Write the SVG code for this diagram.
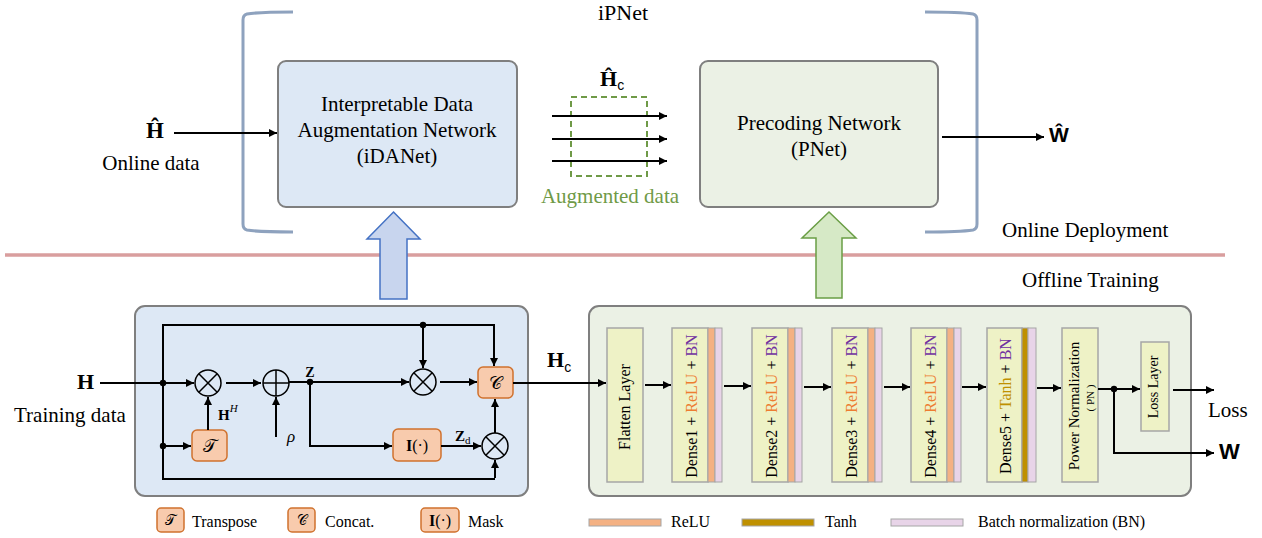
<svg xmlns="http://www.w3.org/2000/svg" width="1262" height="538" viewBox="0 0 1262 538">
<style>
.t{font-family:"Liberation Serif","Times New Roman",serif;fill:#000}
.s21{font-size:21px}
.s16{font-size:16px}
.bf{font-weight:bold}
.ln{fill:none;stroke:#000;stroke-width:2}
.arw{fill:none;stroke:#000;stroke-width:2;marker-end:url(#ah)}
.op{fill:none;stroke:#000;stroke-width:1.5}
.obox{fill:#f8cbad;stroke:#d0722e;stroke-width:1.5}
.lyr{fill:#eef2c6;stroke:#a6a6a6;stroke-width:1.5}
.relu{fill:#f4b183;stroke:#a6a6a6;stroke-width:1}
.bn{fill:#e8d4e8;stroke:#a6a6a6;stroke-width:1}
.tanh{fill:#bf9000;stroke:#a6a6a6;stroke-width:1}
.brk{fill:none;stroke:#8ea2be;stroke-width:3}
.dot{fill:#000}
</style>
<defs>
<marker id="ah" viewBox="0 0 10 10" refX="10" refY="5" markerWidth="10" markerHeight="8" orient="auto" markerUnits="userSpaceOnUse">
<path d="M0,0 L10,5 L0,10 z" fill="#000"/>
</marker>
</defs>

<!-- brackets and separator -->
<g id="brackets">
<path class="brk" d="M293,12 Q258,12 247,14 Q243,15 243,20 L243,224 Q243,229 247,230 Q258,232 293,232"/>
<path class="brk" d="M925,12 Q960,12 973,14 Q977,15 977,20 L977,224 Q977,229 973,230 Q960,232 925,232"/>
</g>
<line x1="5" y1="255" x2="1225" y2="255" stroke="#d99e9e" stroke-width="3.5"/>

<text class="t" x="623" y="20" font-size="22" text-anchor="middle">iPNet</text>
<text class="t s21" x="1002" y="237">Online Deployment</text>
<text class="t s21" x="1022" y="287">Offline Training</text>

<!-- top: input -->
<g id="online-input">
<text class="t bf" x="146" y="138" font-size="23">Ĥ</text>
<text class="t s21" x="151" y="170" text-anchor="middle">Online data</text>
</g>

<g id="iDANet">
<rect x="278" y="61" width="239" height="146" rx="8" fill="#dde8f5" stroke="#7f7f7f" stroke-width="2"/>
<text class="t s21" x="397" y="111" text-anchor="middle">Interpretable Data</text>
<text class="t s21" x="397" y="137" text-anchor="middle">Augmentation Network</text>
<text class="t s21" x="397" y="163" text-anchor="middle">(iDANet)</text>
</g>

<g id="augmented">
<rect x="571" y="97" width="76" height="79" fill="none" stroke="#6f9a47" stroke-width="2" stroke-dasharray="6,4"/>
<text class="t bf" x="600" y="86" font-size="22">Ĥ<tspan font-family="Liberation Sans, Arial, sans-serif" font-weight="normal" font-size="14" dy="4">c</tspan></text>
<text class="t s21" x="610" y="203" text-anchor="middle" fill="#6f9a47" style="fill:#6f9a47">Augmented data</text>
</g>

<g id="PNet">
<rect x="700" y="61" width="238" height="146" rx="8" fill="#ebf1e5" stroke="#7f7f7f" stroke-width="2"/>
<text class="t s21" x="819" y="130" text-anchor="middle">Precoding Network</text>
<text class="t s21" x="819" y="156" text-anchor="middle">(PNet)</text>
</g>

<g id="output-W">
<text x="1049" y="142" font-family="Liberation Sans, Arial, sans-serif" font-weight="bold" font-size="21">Ŵ</text>
</g>

<!-- big arrows -->
<g id="up-arrow-blue">
<polygon points="393.5,212 420,239 407,239 407,299 380,299 380,239 367,239" fill="#c8d5ee" stroke="#4472c4" stroke-width="1.5"/>
</g>
<g id="up-arrow-green">
<polygon points="829,212 856,238 842,238 842,298 816,298 816,238 802,238" fill="#d6e9c6" stroke="#6a9e45" stroke-width="1.5"/>
</g>

<!-- bottom-left iDANet detail -->
<g id="iDANet-detail">
<rect x="135" y="306" width="393" height="190" rx="10" fill="#dde8f5" stroke="#7f7f7f" stroke-width="2"/>
</g>

<g id="ops">
<g id="mul1"><circle class="op" cx="208" cy="383" r="13"/><path class="op" d="M198.8,373.8 L217.2,392.2 M217.2,373.8 L198.8,392.2"/></g>
<g id="add1"><circle class="op" cx="276" cy="383" r="13"/><path class="op" d="M263,383 L289,383 M276,370 L276,396"/></g>
<g id="mul2"><circle class="op" cx="423" cy="382" r="13"/><path class="op" d="M413.8,372.8 L432.2,391.2 M432.2,372.8 L413.8,391.2"/></g>
<g id="mul3"><circle class="op" cx="495" cy="446" r="13"/><path class="op" d="M485.8,436.8 L504.2,455.2 M504.2,436.8 L485.8,455.2"/></g>
</g>

<g id="T-box">
<rect class="obox" x="192" y="430" width="35" height="31" rx="5"/>
<text x="209.5" y="452" text-anchor="middle" font-family="DejaVu Serif, Liberation Serif, serif" font-size="18">𝒯</text>
</g>
<g id="C-box">
<rect class="obox" x="478" y="367" width="35" height="31" rx="5"/>
<text x="495.5" y="389" text-anchor="middle" font-family="DejaVu Serif, Liberation Serif, serif" font-size="18">𝒞</text>
</g>
<g id="I-box">
<rect class="obox" x="393" y="429" width="48" height="32" rx="5"/>
<text class="t s16" x="417" y="451" text-anchor="middle"><tspan font-weight="bold">I</tspan>(·)</text>
</g>

<g id="detail-labels">
<text class="t bf s21" x="77" y="389" font-size="22" style="font-size:22px">H</text>
<text class="t s21" x="14" y="422">Training data</text>
<text class="t bf" x="310" y="377" font-size="14" text-anchor="middle">Z</text>
<text class="t" x="218" y="420" font-size="15"><tspan font-weight="bold">H</tspan><tspan font-style="italic" font-size="11" dy="-8">H</tspan></text>
<text class="t" x="287" y="442" font-size="17" font-style="italic">ρ</text>
<text class="t" x="455" y="441" font-size="15"><tspan font-weight="bold">Z</tspan><tspan font-size="11" dy="3">d</tspan></text>
<text class="t bf" x="547" y="367" font-size="22">H<tspan font-family="Liberation Sans, Arial, sans-serif" font-weight="normal" font-size="14" dy="5">c</tspan></text>
</g>

<!-- bottom-right PNet detail -->
<g id="PNet-detail">
<rect x="589" y="306" width="602" height="190" rx="10" fill="#ebf1e5" stroke="#7f7f7f" stroke-width="2"/>
</g>

<g id="flatten">
<rect class="lyr" x="607" y="328" width="36" height="154"/>
<text class="t s16" transform="translate(630,407) rotate(-90)" text-anchor="middle">Flatten Layer</text>
</g>
<g id="dense1">
<rect class="lyr" x="672" y="328" width="36" height="154"/>
<rect class="relu" x="708" y="328" width="7" height="154"/>
<rect class="bn" x="715" y="328" width="7" height="154"/>
<text class="t s16" transform="translate(697,406) rotate(-90)" text-anchor="middle">Dense1 + <tspan fill="#ed7d31">ReLU</tspan> + <tspan fill="#7030a0">BN</tspan></text>
</g>
<g id="dense2">
<rect class="lyr" x="752" y="328" width="36" height="154"/>
<rect class="relu" x="788" y="328" width="7" height="154"/>
<rect class="bn" x="795" y="328" width="7" height="154"/>
<text class="t s16" transform="translate(777,406) rotate(-90)" text-anchor="middle">Dense2 + <tspan fill="#ed7d31">ReLU</tspan> + <tspan fill="#7030a0">BN</tspan></text>
</g>
<g id="dense3">
<rect class="lyr" x="832" y="328" width="36" height="154"/>
<rect class="relu" x="868" y="328" width="7" height="154"/>
<rect class="bn" x="875" y="328" width="7" height="154"/>
<text class="t s16" transform="translate(857,406) rotate(-90)" text-anchor="middle">Dense3 + <tspan fill="#ed7d31">ReLU</tspan> + <tspan fill="#7030a0">BN</tspan></text>
</g>
<g id="dense4">
<rect class="lyr" x="911" y="328" width="36" height="154"/>
<rect class="relu" x="947" y="328" width="7" height="154"/>
<rect class="bn" x="954" y="328" width="7" height="154"/>
<text class="t s16" transform="translate(936,406) rotate(-90)" text-anchor="middle">Dense4 + <tspan fill="#ed7d31">ReLU</tspan> + <tspan fill="#7030a0">BN</tspan></text>
</g>
<g id="dense5">
<rect class="lyr" x="987" y="328" width="35" height="154"/>
<rect class="tanh" x="1022" y="328" width="6" height="154"/>
<rect class="bn" x="1028" y="328" width="8" height="154"/>
<text class="t s16" transform="translate(1011,406) rotate(-90)" text-anchor="middle">Dense5 + <tspan fill="#bf9000">Tanh</tspan> + <tspan fill="#7030a0">BN</tspan></text>
</g>
<g id="power-norm">
<rect class="lyr" x="1062" y="328" width="36" height="154"/>
<text class="t" font-size="15" transform="translate(1079,406) rotate(-90)" text-anchor="middle">Power Normalization</text>
<text class="t" font-size="11" transform="translate(1094,398) rotate(-90)" text-anchor="middle">( PN )</text>
</g>
<g id="loss-layer">
<rect class="lyr" x="1141" y="342" width="28" height="89"/>
<text class="t" font-size="14" transform="translate(1158,387) rotate(-90)" text-anchor="middle">Loss Layer</text>
</g>
<g id="outputs">
<text class="t s21" x="1208" y="417">Loss</text>
<text x="1219" y="459" font-family="Liberation Sans, Arial, sans-serif" font-weight="bold" font-size="22">W</text>
</g>

<!-- connectors -->
<g id="connectors">
<line class="arw" x1="174" y1="133" x2="277" y2="133"/>
<line class="arw" x1="552" y1="116" x2="667" y2="116"/>
<line class="arw" x1="552" y1="139" x2="667" y2="139"/>
<line class="arw" x1="552" y1="161" x2="667" y2="161"/>
<line class="arw" x1="942" y1="137" x2="1044" y2="137"/>

<line class="arw" x1="100" y1="383" x2="194" y2="383"/>
<polyline class="ln" points="494,325 163,325 163,479 495,479"/>
<line class="arw" x1="494" y1="324" x2="494" y2="366"/>
<line class="arw" x1="423" y1="325" x2="423" y2="368"/>
<line class="arw" x1="495" y1="478" x2="495" y2="460"/>
<line class="arw" x1="163" y1="446" x2="191" y2="446"/>
<line class="arw" x1="208" y1="430" x2="208" y2="397"/>
<line class="arw" x1="226" y1="383" x2="261" y2="383"/>
<line class="arw" x1="276" y1="437" x2="276" y2="397"/>
<line class="arw" x1="289" y1="382" x2="409" y2="382"/>
<polyline class="ln" points="310,382 310,446 380,446"/>
<line class="arw" x1="375" y1="446" x2="392" y2="446"/>
<line class="arw" x1="441" y1="446" x2="481" y2="446"/>
<line class="arw" x1="440" y1="382" x2="477" y2="382"/>
<line class="arw" x1="495" y1="433" x2="495" y2="399"/>
<circle class="dot" cx="163" cy="383" r="3.2"/>
<circle class="dot" cx="163" cy="446" r="3.2"/>
<circle class="dot" cx="310" cy="382" r="3.2"/>
<circle class="dot" cx="423" cy="325" r="3.2"/>

<line class="arw" x1="513" y1="383" x2="606" y2="383"/>
<line class="arw" x1="645" y1="385" x2="671" y2="385"/>
<line class="arw" x1="724" y1="386" x2="751" y2="386"/>
<line class="arw" x1="804" y1="387" x2="831" y2="387"/>
<line class="arw" x1="884" y1="387" x2="910" y2="387"/>
<line class="arw" x1="962" y1="387" x2="986" y2="387"/>
<line class="arw" x1="1037" y1="388" x2="1061" y2="388"/>
<line class="arw" x1="1098" y1="389" x2="1140" y2="389"/>
<polyline class="ln" points="1114,389 1114,453 1205,453"/>
<line class="arw" x1="1200" y1="453" x2="1214" y2="453"/>
<line class="arw" x1="1173" y1="390" x2="1214" y2="390"/>
<circle class="dot" cx="1114" cy="389" r="3.2"/>
</g>

<!-- legends -->
<g id="legend-left">
<rect class="obox" x="157" y="508" width="27" height="24" rx="4"/>
<text x="170.5" y="525" text-anchor="middle" font-family="DejaVu Serif, Liberation Serif, serif" font-size="14">𝒯</text>
<text class="t s16" x="192" y="527">Transpose</text>
<rect class="obox" x="288" y="508" width="27" height="24" rx="4"/>
<text x="301.5" y="525" text-anchor="middle" font-family="DejaVu Serif, Liberation Serif, serif" font-size="14">𝒞</text>
<text class="t s16" x="325" y="527">Concat.</text>
<rect class="obox" x="421" y="508" width="38" height="24" rx="4"/>
<text class="t s16" x="440" y="526" text-anchor="middle"><tspan font-weight="bold">I</tspan>(·)</text>
<text class="t s16" x="468" y="527">Mask</text>
</g>
<g id="legend-right">
<rect class="relu" x="589" y="519" width="72" height="7"/>
<text class="t s16" x="671" y="527">ReLU</text>
<rect class="tanh" x="742" y="519" width="72" height="7"/>
<text class="t s16" x="825" y="527">Tanh</text>
<rect class="bn" x="891" y="519" width="72" height="7"/>
<text class="t s16" x="978" y="527">Batch normalization (BN)</text>
</g>
</svg>
